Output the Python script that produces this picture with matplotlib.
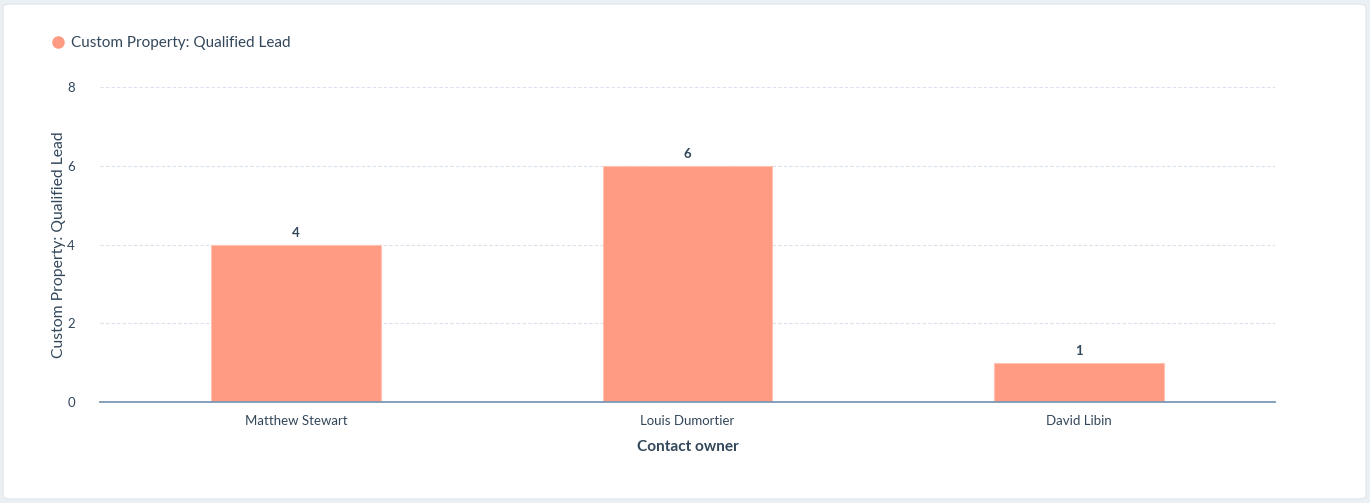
import matplotlib.pyplot as plt
from matplotlib.patches import FancyBboxPatch
from matplotlib.lines import Line2D

owners = ['Matthew Stewart', 'Louis Dumortier', 'David Libin']
qualified_leads = [4, 6, 1]
y_ticks = [0, 2, 4, 6, 8]
series_name = 'Custom Property: Qualified Lead'

text_color = '#33475b'
bar_color = '#ff9b82'

plt.rcParams['font.family'] = ['Lato', 'DejaVu Sans']

fig = plt.figure(figsize=(13.7, 5.03), dpi=100)
fig.patch.set_facecolor('#eaf0f4')

# white card behind the chart
card = FancyBboxPatch((3 / 1370, 4 / 503), 1363 / 1370, 495 / 503,
                      boxstyle='round,pad=0,rounding_size=0.006',
                      transform=fig.transFigure, facecolor='white',
                      edgecolor='#e3e8ee', linewidth=1, zorder=-10)
fig.patches.append(card)

ax = fig.add_axes([100 / 1370, 1 - 402 / 503, 1175 / 1370, 315 / 503])
ax.set_facecolor('none')

x = list(range(len(owners)))
bars = ax.bar(x, qualified_leads, width=0.434, color=bar_color,
              edgecolor='#ffc2b2', linewidth=0.8, zorder=3)

for rect, v in zip(bars, qualified_leads):
    ax.annotate(str(v), (rect.get_x() + rect.get_width() / 2, v),
                xytext=(0, 4), textcoords='offset points', ha='center', va='bottom',
                fontsize=9.5, fontweight='bold', color=text_color)

ax.set_xlim(-0.5, len(owners) - 0.5)
ax.set_ylim(0, 8)
ax.set_yticks(y_ticks)
ax.set_xticks(x)
ax.set_xticklabels(owners)
ax.tick_params(axis='both', length=0, labelsize=9.5, labelcolor=text_color)
ax.tick_params(axis='y', pad=18)
ax.tick_params(axis='x', pad=9.5)

ax.grid(axis='y', color='#dae1ec', linestyle=(0, (3, 2)), linewidth=0.8, zorder=0)
for side in ['top', 'right', 'left']:
    ax.spines[side].set_visible(False)
ax.spines['bottom'].set_color('#7c98b6')
ax.spines['bottom'].set_linewidth(1.3)
ax.spines['bottom'].set_zorder(4)

ax.set_xlabel('Contact owner', fontsize=11.1, fontweight='bold', color=text_color, labelpad=9)
ax.set_ylabel(series_name, fontsize=11.3, color=text_color, labelpad=1)

handle = Line2D([], [], marker='o', linestyle='', markersize=8,
                markerfacecolor=bar_color, markeredgecolor=bar_color)
fig.legend([handle], [series_name], loc='center left',
           bbox_to_anchor=(43 / 1370, 1 - 43 / 503), frameon=False,
           fontsize=11, labelcolor=text_color, handletextpad=0.25,
           handlelength=1.2, borderaxespad=0)

fig.savefig('out.png', dpi=100, facecolor=fig.get_facecolor())
